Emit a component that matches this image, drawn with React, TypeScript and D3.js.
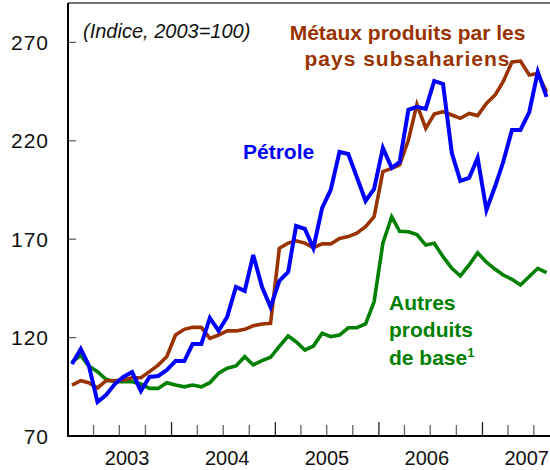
import React from "react";
import * as d3 from "d3";

const startYear = 2003;
const yearLabels = ["2003", "2004", "2005", "2006", "2007"];
const yTicks = [70, 120, 170, 220, 270];

const petrole = [
  106.6, 114.2, 106, 87.3, 90.8, 96.4, 100, 102.5, 92.9, 100, 100.5, 103.5,
  108.1, 108.1, 116.7, 116.7, 130, 123.4, 130.5, 145.7, 143.7, 162, 145.7, 135.5,
  148.8, 153.3, 176.7, 175.2, 165.5, 185.9, 195, 214.3, 213.3, 201.6, 189.4, 195.5,
  216.3, 206.2, 209.2, 235.7, 237.2, 236.2, 250.4, 248.9, 213.8, 199.6, 201.1, 211.3,
  184.8, 197, 209.2, 225.5, 225.5, 234.6, 255, 242.3,
];

const metaux = [
  95.9, 98.1, 97.1, 94.4, 98.1, 98.1, 98.5, 99.6, 99.6, 102.7, 106, 110.3,
  121.3, 124.2, 125.2, 125.2, 119.6, 121.3, 123.4, 123.4, 124.2, 126, 126.9, 127.2,
  165.4, 168, 169.2, 168, 165.7, 167.6, 167.6, 170.4, 171.3, 173, 176.4, 181.4,
  204.3, 206, 207.7, 220.4, 238.5, 226.3, 233.6, 234.8, 233.1, 231.4, 233.9, 232.8,
  239, 243.3, 250, 260, 260.5, 253.4, 254.2, 244.8,
];

const autres = [
  107.5, 111, 105.6, 102.7, 98.8, 97.6, 97.6, 97.6, 96.4, 94.2, 94.2, 97.1,
  95.9, 95, 95.9, 95, 97.1, 101.9, 104.4, 105.6, 110.3, 106.1, 108.3, 110,
  115.5, 120.8, 117.9, 113.7, 115.7, 122.2, 120.5, 121.3, 125, 125, 126.9, 138.2,
  168, 181.4, 174, 173.8, 172.3, 167, 167.9, 161.1, 155.2, 151.3, 156.9, 163.1,
  158.3, 154.7, 151.8, 149.6, 146.7, 151, 155.2, 153,
];

const BROWN = "#993300";
const BLUE = "#0000ff";
const GREEN = "#008000";
const FONT = "'Liberation Sans', Arial, Helvetica, sans-serif";

export default function App() {
  const W = 550;
  const H = 470;
  const left = 68;
  const top = 3;
  const bottom = 436;
  const right = 550;

  const x = d3
    .scaleTime()
    .domain([new Date(startYear, 0, 1), new Date(startYear + 5, 0, 1)])
    .range([left, left + 5 * 103.6]);
  const y = d3.scaleLinear().domain([70, 290]).range([bottom, top]);

  const dateOf = (i: number) => new Date(startYear, i, 15);
  const line = d3
    .line<number>()
    .x((_, i) => x(dateOf(i)))
    .y((d) => y(d))
    .curve(d3.curveLinear);

  const quarterTicks = d3.timeMonth
    .every(3)!
    .range(new Date(startYear, 3, 1), new Date(startYear + 5, 0, 1))
    .filter((d) => x(d) < right);

  return (
    <svg
      width={W}
      height={H}
      style={{ position: "absolute", left: 0, top: 0, background: "#fff" }}
      fontFamily={FONT}
    >
      <defs>
        <clipPath id="plot">
          <rect x={left} y={top} width={right - left} height={bottom - top} />
        </clipPath>
      </defs>
      <rect x={0} y={0} width={W} height={H} fill="#fff" />

      {/* top frame */}
      <line x1={left} x2={right} y1={top} y2={top} stroke="#444" strokeWidth={1.5} />

      {/* y ticks */}
      {yTicks.map((t) => (
        <g key={t}>
          {t !== 70 && (
            <line x1={left} x2={left + 8} y1={y(t)} y2={y(t)} stroke="#555" strokeWidth={1.2} />
          )}
          <text
            x={49}
            y={y(t)}
            dy="0.36em"
            textAnchor="end"
            fontSize={21}
            letterSpacing={1}
            fill="#111"
          >
            {t}
          </text>
        </g>
      ))}

      {/* x ticks */}
      {quarterTicks.map((d, i) => {
        const isYear = d.getMonth() === 0;
        return (
          <line
            key={i}
            x1={x(d)}
            x2={x(d)}
            y1={bottom}
            y2={bottom - (isYear ? 14 : 11)}
            stroke={isYear ? "#222" : "#666"}
            strokeWidth={1.3}
          />
        );
      })}
      {yearLabels.map((lab) => {
        const yr = +lab;
        const cx = x(new Date(yr, 6, 2)) + (2005 - yr) * 3.7;
        return (
          <text key={lab} x={cx} y={465} textAnchor="middle" fontSize={20} fill="#111">
            {lab}
          </text>
        );
      })}

      {/* series */}
      <g clipPath="url(#plot)" fill="none" strokeLinejoin="miter" strokeLinecap="butt">
        <path d={line(autres) || ""} stroke={GREEN} strokeWidth={3.6} />
        <path d={line(metaux) || ""} stroke={BROWN} strokeWidth={3.6} />
        <path d={line(petrole) || ""} stroke={BLUE} strokeWidth={4} />
      </g>

      {/* axes */}
      <line x1={left} x2={left} y1={top} y2={bottom + 1} stroke="#000" strokeWidth={2} />
      <line x1={left} x2={right} y1={bottom} y2={bottom} stroke="#000" strokeWidth={2} />

      {/* annotations */}
      <text x={83} y={38} fontSize={20} fontStyle="italic" fill="#111">
        (Indice, 2003=100)
      </text>
      <text fontSize={21} fontWeight="bold" fill={BROWN} textAnchor="middle">
        <tspan x={407.5} y={40}>Métaux produits par les</tspan>
        <tspan x={407.5} y={66} letterSpacing={1}>pays subsahariens</tspan>
      </text>
      <text x={243} y={159} fontSize={21} fontWeight="bold" fill={BLUE}>
        Pétrole
      </text>
      <text fontSize={21} fontWeight="bold" fill={GREEN}>
        <tspan x={389} y={310}>Autres</tspan>
        <tspan x={389} y={337}>produits</tspan>
        <tspan x={389} y={365}>
          de base
          <tspan fontSize={13} dy={-8}>1</tspan>
        </tspan>
      </text>
    </svg>
  );
}
